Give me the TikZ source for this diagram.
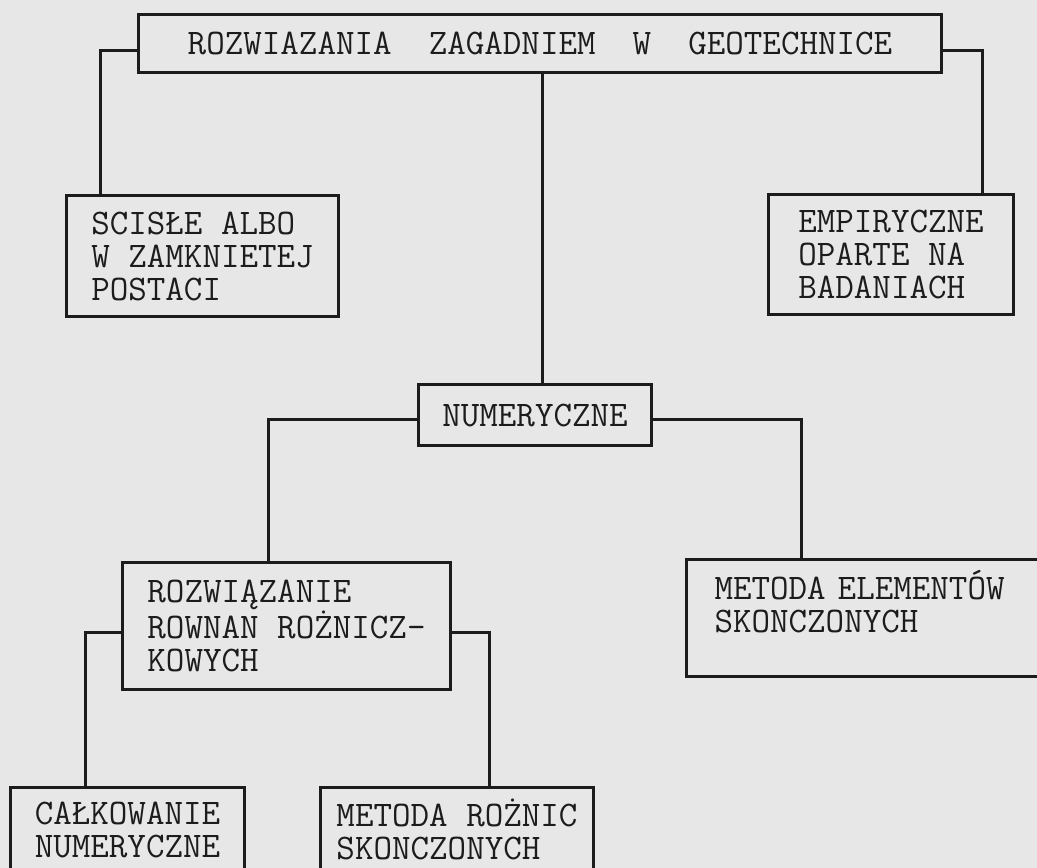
\documentclass[tikz,border=0pt]{standalone}
\usepackage{fontspec}
\usepackage{tikz}
\usetikzlibrary{positioning}
\definecolor{paperbg}{RGB}{231,231,231}
\definecolor{inkblack}{RGB}{28,28,28}

\begin{document}
\begin{tikzpicture}[x=1pt,y=-1pt,
    box/.style={draw=inkblack,line width=3pt,anchor=north west,align=left,
      text=inkblack,inner sep=0pt,font=\ttfamily\fontsize{36}{33}\selectfont},
    link/.style={draw=inkblack,line width=3pt}]
  \useasboundingbox (0,0) rectangle (1037,868);
  \clip (0,0) rectangle (1037,868);
  \fill[paperbg] (0,0) rectangle (1037,868);

  % boxes
  \node[box,minimum width=803pt,minimum height=58pt] (top) at (137,13)
    {ROZWIAZANIA~~ZAGADNIEM~~W~~GEOTECHNICE};
  \node[box,minimum width=272pt,minimum height=121pt] (scisle) at (65,194)
    {SCISŁE ALBO\\W ZAMKNIETEJ\\POSTACI};
  \node[box,minimum width=245pt,minimum height=120pt] (empir) at (767,193)
    {EMPIRYCZNE\\OPARTE NA\\BADANIACH};
  \node[box,minimum width=233pt,minimum height=61pt] (numer) at (417,383)
    {NUMERYCZNE};
  \node[box,minimum width=328pt,minimum height=127pt] (rozw) at (121,561)
    {ROZWIĄZANIE\\ROWNAN ROŻNICZ-\\KOWYCH};
  \node[box,text width=344pt,inner xsep=28pt,minimum height=117pt] (mes) at (685,558)
    {METODA ELEMENTÓW\\SKONCZONYCH\\\mbox{}};
  \node[box,minimum width=234pt,minimum height=84pt] (calk) at (9,786)
    {CAŁKOWANIE\\NUMERYCZNE};
  \node[box,minimum width=273pt,minimum height=84pt] (mrs) at (319,786)
    {METODA ROŻNIC\\SKONCZONYCH};

  % connectors
  \draw[link] ([yshift=-7pt]top.west) -| ([xshift=35pt]scisle.north west);
  \draw[link] ([yshift=-7pt]top.east) -| ([xshift=215pt]empir.north west);
  \draw[link] ([xshift=125pt]numer.north west) -- ([xshift=125pt]numer.north west |- top.south);
  \draw[link] ([yshift=-4.5pt]numer.west) -| ([xshift=147pt]rozw.north west);
  \draw[link] ([yshift=-4.5pt]numer.east) -| ([xshift=116pt]mes.north west);
  \draw[link] ([yshift=-6.5pt]rozw.west) -| ([xshift=76pt]calk.north west);
  \draw[link] ([yshift=-6.5pt]rozw.east) -| ([xshift=170pt]mrs.north west);
\end{tikzpicture}
\end{document}
